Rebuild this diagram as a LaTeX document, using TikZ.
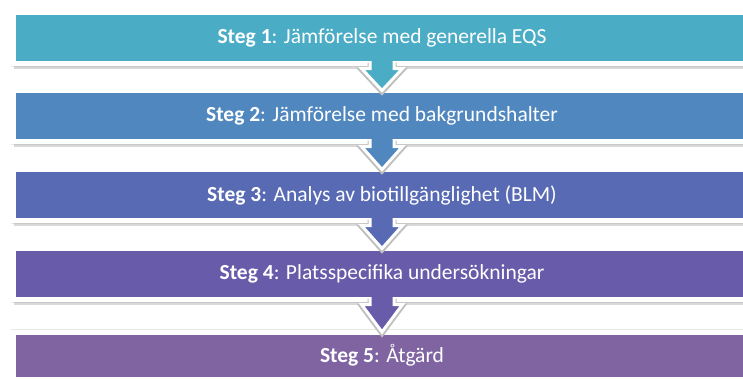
\documentclass[tikz,border=0pt]{standalone}
\usepackage{fontspec}
\setmainfont{Carlito}
\usetikzlibrary{calc,shadows}
\definecolor{stegA}{RGB}{75,172,198}
\definecolor{stegB}{RGB}{80,135,190}
\definecolor{stegC}{RGB}{88,106,180}
\definecolor{stegD}{RGB}{104,92,170}
\definecolor{stegE}{RGB}{128,100,162}

\begin{document}
\begin{tikzpicture}[x=1pt,y=-1pt,
  stegbox/.style={draw=white,line width=5pt,outer sep=0pt,inner sep=0pt,
    minimum width=737pt,minimum height=51pt,text=white,
    font=\fontsize{21.5}{26}\selectfont,
    preaction={draw=black!9,line width=6pt},
    drop shadow={shadow xshift=0pt,shadow yshift=-5pt,opacity=.3}},
  pil/.style={draw=white,line width=3pt,line join=miter,
    preaction={draw=black!25,line width=5pt,transform canvas={yshift=-1.5pt}}}]
\useasboundingbox (0,0) rectangle (743,378);
\clip (0,0) rectangle (743,378);
\node [stegbox,fill=stegA] (s1) at (382,38) {\textbf{Steg 1}: Jämförelse med generella EQS};
\node [stegbox,fill=stegB] (s2) at (382,116) {\textbf{Steg 2}: Jämförelse med bakgrundshalter};
\node [stegbox,fill=stegC] (s3) at (382,195) {\textbf{Steg 3}: Analys av biotillgänglighet (BLM)};
\node [stegbox,fill=stegD] (s4) at (382,274) {\textbf{Steg 4}: Platsspecifika undersökningar};
\node [stegbox,fill=stegE,minimum height=47pt] (s5) at (382,355.5) {\textbf{Steg 5}: Åtgärd};
% arrows between the steps
\draw [pil,fill=stegA] ($(s1.south)+(-12,-2.5)$) -- ++(0,7.5) -- ++(-8.5,0) -- (s2.north) -- ($(s1.south)+(20.5,5)$) -- ++(-8.5,0) -- ++(0,-7.5);
\draw [pil,fill=stegB] ($(s2.south)+(-12,-2.5)$) -- ++(0,7.5) -- ++(-8.5,0) -- (s3.north) -- ($(s2.south)+(20.5,5)$) -- ++(-8.5,0) -- ++(0,-7.5);
\draw [pil,fill=stegC] ($(s3.south)+(-12,-2.5)$) -- ++(0,7.5) -- ++(-8.5,0) -- (s4.north) -- ($(s3.south)+(20.5,5)$) -- ++(-8.5,0) -- ++(0,-7.5);
\draw [pil,fill=stegD] ($(s4.south)+(-12,-2.5)$) -- ++(0,7.5) -- ++(-8.5,0) -- (s5.north) -- ($(s4.south)+(20.5,5)$) -- ++(-8.5,0) -- ++(0,-7.5);
\end{tikzpicture}
\end{document}
